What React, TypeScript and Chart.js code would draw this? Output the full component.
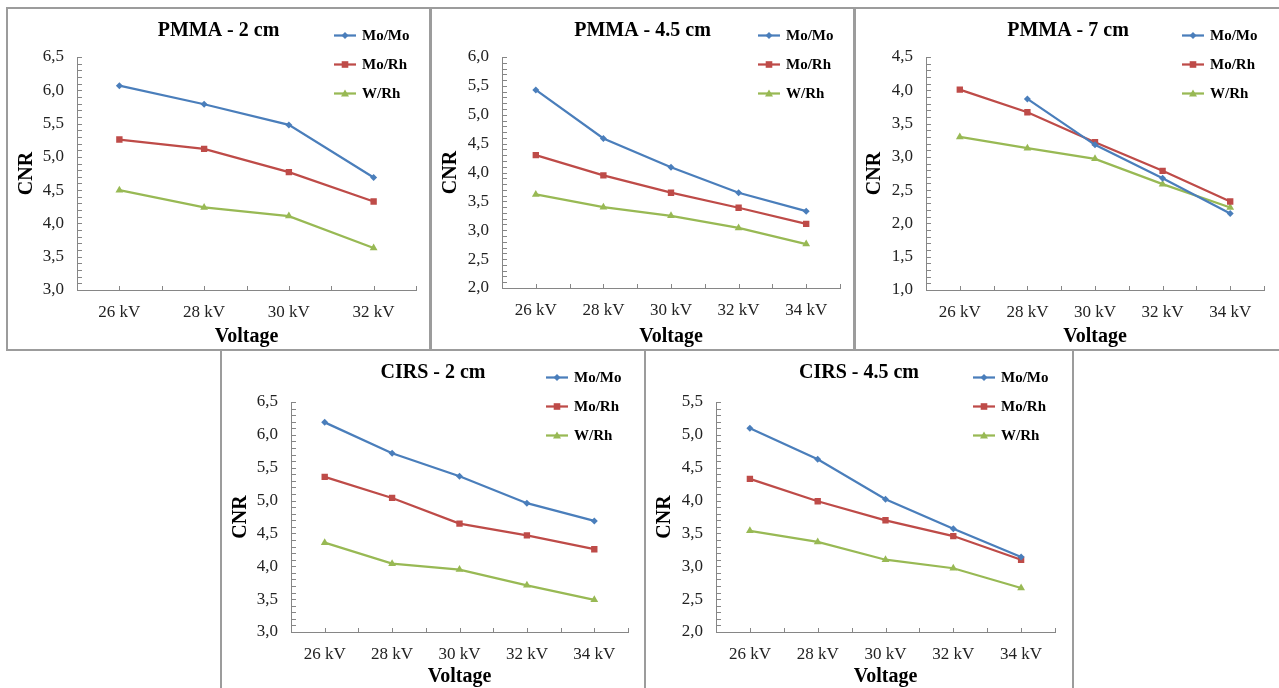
import React, { useEffect, useRef } from 'react';
import { Chart, registerables } from 'chart.js';

Chart.register(...registerables);

const FONT = "'Liberation Serif', 'Times New Roman', serif";
const AXIS_COLOR = '#868686';
const BORDER_COLOR = '#9c9c9c';

const seriesNames = ['Mo/Mo', 'Mo/Rh', 'W/Rh'];
const seriesColors = ['#4A7EBB', '#BE4B48', '#98B954'];
const seriesPoints = ['rectRot', 'rect', 'triangle'];
const seriesRadius = [3.5, 4.5, 4.5];

const voltages4 = ['26 kV', '28 kV', '30 kV', '32 kV'];
const voltages5 = ['26 kV', '28 kV', '30 kV', '32 kV', '34 kV'];

// PMMA - 2 cm
const pmma2MoMo = [6.07, 5.79, 5.48, 4.69];
const pmma2MoRh = [5.26, 5.12, 4.77, 4.33];
const pmma2WRh = [4.5, 4.24, 4.11, 3.63];

// PMMA - 4.5 cm
const pmma45MoMo = [5.43, 4.59, 4.09, 3.65, 3.33];
const pmma45MoRh = [4.3, 3.95, 3.65, 3.39, 3.11];
const pmma45WRh = [3.62, 3.4, 3.25, 3.04, 2.76];

// PMMA - 7 cm
const pmma7MoMo = [null, 3.87, 3.18, 2.68, 2.15];
const pmma7MoRh = [4.01, 3.67, 3.22, 2.79, 2.33];
const pmma7WRh = [3.3, 3.13, 2.97, 2.59, 2.24];

// CIRS - 2 cm
const cirs2MoMo = [6.19, 5.72, 5.37, 4.96, 4.69];
const cirs2MoRh = [5.36, 5.04, 4.65, 4.47, 4.26];
const cirs2WRh = [4.36, 4.04, 3.95, 3.71, 3.49];

// CIRS - 4.5 cm
const cirs45MoMo = [5.1, 4.63, 4.02, 3.57, 3.14];
const cirs45MoRh = [4.33, 3.99, 3.7, 3.46, 3.1];
const cirs45WRh = [3.54, 3.37, 3.1, 2.97, 2.67];

type Panel = {
  title: string;
  labels: string[];
  series: (number | null)[][];
  yMin: number;
  yMax: number;
  box: { left: number; top: number; width: number; height: number };
  plot: { left: number; right: number; top: number; bottom: number };
};

const panels: Panel[] = [
  {
    title: 'PMMA - 2 cm', labels: voltages4, series: [pmma2MoMo, pmma2MoRh, pmma2WRh], yMin: 3, yMax: 6.5,
    box: { left: 6, top: 7, width: 425, height: 344 },
    plot: { left: 69, right: 408, top: 48, bottom: 281 },
  },
  {
    title: 'PMMA - 4.5 cm', labels: voltages5, series: [pmma45MoMo, pmma45MoRh, pmma45WRh], yMin: 2, yMax: 6,
    box: { left: 430, top: 7, width: 425, height: 344 },
    plot: { left: 70, right: 408, top: 48, bottom: 279 },
  },
  {
    title: 'PMMA - 7 cm', labels: voltages5, series: [pmma7MoMo, pmma7MoRh, pmma7WRh], yMin: 1, yMax: 4.5,
    box: { left: 854, top: 7, width: 428, height: 344 },
    plot: { left: 70, right: 408, top: 48, bottom: 281 },
  },
  {
    title: 'CIRS - 2 cm', labels: voltages5, series: [cirs2MoMo, cirs2MoRh, cirs2WRh], yMin: 3, yMax: 6.5,
    box: { left: 220, top: 349, width: 426, height: 342 },
    plot: { left: 69, right: 406, top: 51, bottom: 281 },
  },
  {
    title: 'CIRS - 4.5 cm', labels: voltages5, series: [cirs45MoMo, cirs45MoRh, cirs45WRh], yMin: 2, yMax: 5.5,
    box: { left: 644, top: 349, width: 430, height: 342 },
    plot: { left: 70, right: 409, top: 51, bottom: 281 },
  },
];

function drawMarker(ctx: CanvasRenderingContext2D, kind: string, x: number, y: number, color: string) {
  ctx.fillStyle = color;
  ctx.beginPath();
  if (kind === 'rectRot') {
    const s = 3.5;
    ctx.moveTo(x, y - s);
    ctx.lineTo(x + s, y);
    ctx.lineTo(x, y + s);
    ctx.lineTo(x - s, y);
    ctx.closePath();
  } else if (kind === 'rect') {
    ctx.rect(x - 3.3, y - 3.3, 6.6, 6.6);
  } else {
    ctx.moveTo(x, y - 4);
    ctx.lineTo(x + 4, y + 3);
    ctx.lineTo(x - 4, y + 3);
    ctx.closePath();
  }
  ctx.fill();
}

const decorPlugin = {
  id: 'decor',
  afterDraw(chart: any, _args: any, opts: any) {
    const ctx: CanvasRenderingContext2D = chart.ctx;
    const ca = chart.chartArea;
    const xs = chart.scales.x;
    const ys = chart.scales.y;
    ctx.save();
    // axis tick marks (inside)
    ctx.strokeStyle = AXIS_COLOR;
    ctx.lineWidth = 1;
    const steps = Math.round((ys.max - ys.min) * 10);
    for (let i = 0; i <= steps; i++) {
      const py = Math.round(ys.getPixelForValue(ys.min + i / 10)) + 0.5;
      ctx.beginPath();
      ctx.moveTo(ca.left, py);
      ctx.lineTo(ca.left + 5, py);
      ctx.stroke();
    }
    const n = xs.getLabels().length;
    for (let i = 0; i <= n; i++) {
      const positions = [xs.getPixelForValue(i - 0.5)];
      if (i < n) positions.push(xs.getPixelForValue(i));
      for (const p of positions) {
        const px = Math.round(p) + 0.5;
        ctx.beginPath();
        ctx.moveTo(px, ca.bottom);
        ctx.lineTo(px, ca.bottom - 4);
        ctx.stroke();
      }
    }
    // title
    ctx.fillStyle = '#000';
    ctx.font = `bold 20px ${FONT}`;
    ctx.textAlign = 'center';
    ctx.textBaseline = 'middle';
    ctx.fillText(opts.title, chart.width / 2, 21.5);
    // legend
    ctx.textAlign = 'left';
    ctx.font = `bold 15px ${FONT}`;
    const lx = ca.right - 82;
    seriesNames.forEach((name, i) => {
      const ly = 26.5 + i * 29;
      ctx.strokeStyle = seriesColors[i];
      ctx.lineWidth = 2.25;
      ctx.beginPath();
      ctx.moveTo(lx, ly);
      ctx.lineTo(lx + 22, ly);
      ctx.stroke();
      drawMarker(ctx, seriesPoints[i], lx + 11, ly, seriesColors[i]);
      ctx.fillStyle = '#000';
      ctx.fillText(name, lx + 28, ly + 1);
    });
    ctx.restore();
  },
};

function PanelChart({ panel }: { panel: Panel }) {
  const ref = useRef<HTMLCanvasElement | null>(null);
  const W = panel.box.width - 4;
  const H = panel.box.height - 4;
  useEffect(() => {
    if (!ref.current) return;
    const p = panel.plot;
    const chart = new Chart(ref.current, {
      type: 'line',
      data: {
        labels: panel.labels,
        datasets: panel.series.map((data, i) => ({
          label: seriesNames[i],
          data,
          borderColor: seriesColors[i],
          backgroundColor: seriesColors[i],
          borderWidth: 2.25,
          pointStyle: seriesPoints[i] as any,
          pointRadius: seriesRadius[i],
          pointBorderWidth: 0,
          tension: 0,
          fill: false,
        })),
      },
      options: {
        responsive: false,
        animation: false,
        devicePixelRatio: 1,
        layout: { padding: { left: 0, top: p.top, right: W - p.right, bottom: 0 } },
        plugins: {
          legend: { display: false },
          tooltip: { enabled: false },
          title: { display: false },
          decor: { title: panel.title },
        } as any,
        scales: {
          x: {
            type: 'category',
            offset: true,
            grid: { display: false, drawTicks: false },
            border: { display: true, color: AXIS_COLOR, width: 1 },
            ticks: { font: { family: FONT, size: 17 }, color: '#222', padding: 12, maxRotation: 0, autoSkip: false },
            title: {
              display: true, text: 'Voltage', color: '#000',
              font: { family: FONT, size: 20, weight: 'bold' }, padding: { top: 0, bottom: 0 },
            },
            afterFit: (s: any) => { s.height = H - p.bottom; },
          },
          y: {
            min: panel.yMin,
            max: panel.yMax,
            grid: { display: false, drawTicks: false },
            border: { display: true, color: AXIS_COLOR, width: 1 },
            ticks: {
              stepSize: 0.5,
              font: { family: FONT, size: 17 },
              color: '#222',
              padding: 13,
              callback: (v: any) => Number(v).toFixed(1).replace('.', ','),
            },
            title: {
              display: true, text: 'CNR', color: '#000',
              font: { family: FONT, size: 20, weight: 'bold' }, padding: { top: 7, bottom: 0 },
            },
            afterFit: (s: any) => { s.width = p.left; },
          },
        },
      },
      plugins: [decorPlugin as any],
    });
    return () => chart.destroy();
  }, [panel]);
  return (
    <div
      style={{
        position: 'absolute',
        left: panel.box.left,
        top: panel.box.top,
        width: panel.box.width,
        height: panel.box.height,
        border: `2px solid ${BORDER_COLOR}`,
        boxSizing: 'border-box',
        background: '#fff',
      }}
    >
      <canvas ref={ref} width={W} height={H} style={{ display: 'block', width: W, height: H }} />
    </div>
  );
}

export default function App() {
  return (
    <div
      style={{
        position: 'absolute',
        left: 0,
        top: 0,
        width: 1279,
        height: 688,
        overflow: 'hidden',
        background: '#fff',
      }}
    >
      {panels.map((p) => (
        <PanelChart key={p.title} panel={p} />
      ))}
    </div>
  );
}
